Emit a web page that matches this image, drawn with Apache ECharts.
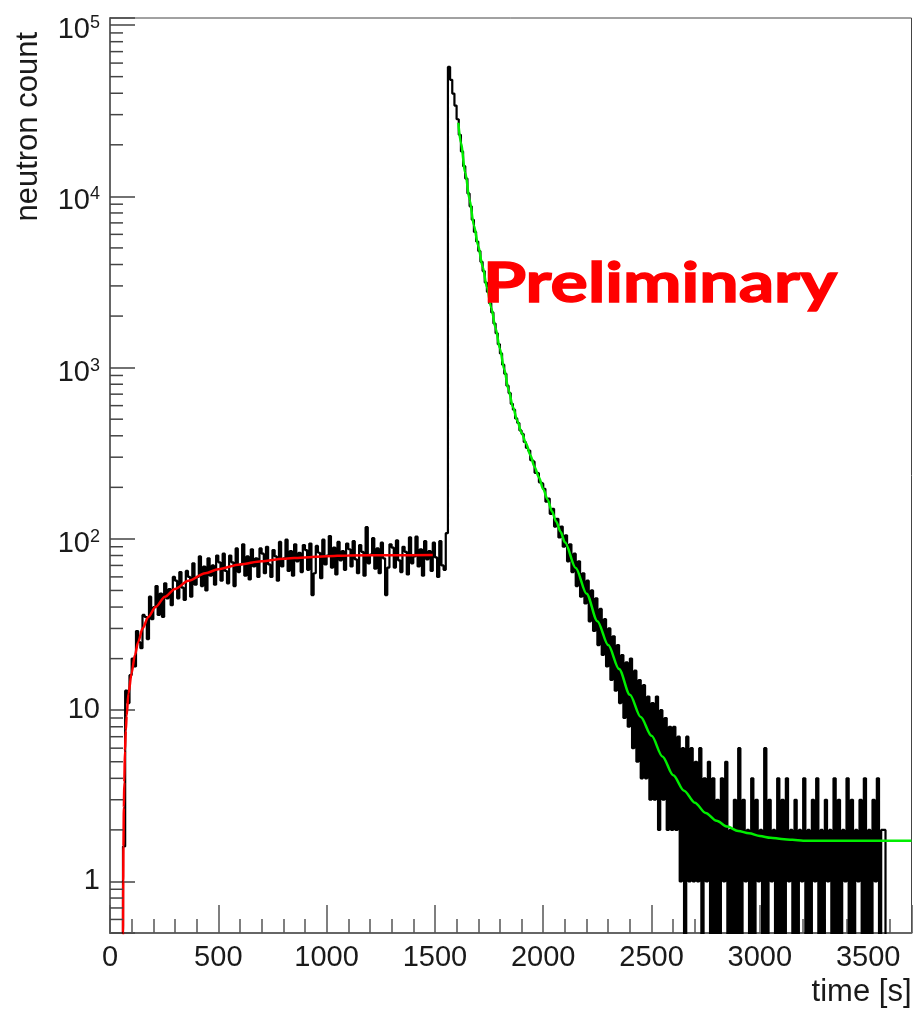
<!DOCTYPE html>
<html>
<head>
<meta charset="utf-8">
<title>neutron count vs time</title>
<script src="https://cdn.jsdelivr.net/npm/echarts@6.0.0/dist/echarts.min.js"></script>
<style>
html,body{margin:0;padding:0;background:#ffffff;}
#chart{width:913px;height:1011px;}
</style>
</head>
<body>
<div id="chart"></div>
<script>
// ---------------- data ----------------
const binWidth = 10;   // s per histogram bin
const histStart = 0;   // s, left edge of the first bin
const histCounts = [
  0,0,0,0,0,0,1.6,13,11,16,
  20,18,29,25,23,36,35,26,46,34,
  40,53,36,48,35,55,45,51,41,60,
  57,45,64,52,44,65,60,46,72,54,
  60,79,53,69,50,77,61,70,54,80,
  73,57,82,65,55,80,73,53,88,64,
  71,93,61,79,58,87,69,77,60,88,
  82,63,90,71,60,86,79,57,96,69,
  77,99,65,85,61,93,74,83,64,92,
  86,66,94,47,63,91,83,59,99,71,
  80,104,68,89,62,96,75,85,66,94,
  87,69,97,76,63,92,84,61,117,72,
  81,101,67,88,63,95,77,47,68,93,
  89,68,98,75,64,90,84,62,102,72,
  79,103,69,87,61,97,76,85,65,95,
  78,60,97,70,66,108,57000,47900,39800,33900,
  28200,22900,18300,15000,12700,10400,8750,7300,6200,5450,
  4790,4150,3660,3140,2770,2380,2100,1810,1590,1370,
  1210,1040,920,785,710,615,568,505,475,430,
  410,368,340,328,288,282,243,242,214,210,
  196,165,172,140,150,118,131,102,118,90,
  105,74,93,64,82,53,74,46,63,42,
  57,33,50,29,45,24,39,21,34,18,
  30,15,27,13,24,11,21,9,19,8,
  20,6,17,5,15,4,14,4,12,3,
  11,3,12,2,10,3,9,2,8,2,
  8,2,7,1,6,0,7,1,6,1,
  5,1,6,0,4,1,5,0,4,0,
  3,0,4,1,5,0,2,0,3,0,
  6,0,3,1,2,0,4,0,3,1,
  2,0,6,0,3,1,2,0,4,0,
  3,0,4,1,2,0,3,0,2,1,
  4,0,2,0,3,1,4,0,2,0,
  3,1,2,0,4,0,3,0,2,1,
  4,0,3,0,2,1,3,0,4,0,
  2,0,3,1,4,0,2
];

// rise fit (red)
const riseFitTime  = [59, 60, 61, 62, 64, 66, 69, 73, 77, 85, 100, 115, 130, 150, 177, 210, 254, 300, 362, 440, 500, 600, 700, 800, 900, 1000, 1100, 1300, 1490];
const riseFitCount = [0.3, 0.5, 1.0, 1.6, 2.7, 3.8, 5.8, 7.6, 9.3, 12.5, 16.5, 21, 25, 30, 35, 40, 46, 51, 57, 63, 66.5, 71, 74, 76.5, 78, 79.3, 80, 80.3, 80.5];

// decay fit (green)
const decayFitTime  = [1608, 1620, 1640, 1660, 1680, 1700, 1720, 1740, 1760, 1780, 1800, 1820, 1840, 1860, 1880, 1900, 1920, 1940, 1960, 1980, 2000, 2020, 2040, 2060, 2080, 2100, 2150, 2200, 2250, 2300, 2350, 2400, 2450, 2500, 2550, 2600, 2650, 2700, 2750, 2800, 2850, 2900, 2950, 3000, 3050, 3100, 3150, 3200, 3700];
const decayFitCount = [26900, 20400, 13800, 9550, 6760, 5130, 3890, 2950, 2240, 1700, 1290, 977, 741, 589, 490, 417, 363, 309, 263, 229, 195, 170, 145, 126, 110, 95.5, 67.6, 47.9, 33.1, 24.0, 17.4, 12.3, 9.12, 7.08, 5.37, 4.17, 3.39, 2.88, 2.51, 2.26, 2.09, 1.97, 1.91, 1.84, 1.80, 1.77, 1.75, 1.73, 1.73];

// axes
const xMin = 0, xMax = 3700, xMajorStep = 500, xMinorStep = 100;
const yMin = 0.5, yMax = 1.1e5;
const yMinorMantissas = [2, 3, 4, 5, 6, 7, 8, 9];
const yDecades = [-1, 0, 1, 2, 3, 4];
const xTitle = 'time [s]';
const yTitle = 'neutron count';
const stampText = 'Preliminary';

// ---------------- build ----------------
const ZERO_FLOOR = 0.02; // empty bins are drawn below the axis floor (log scale)
const histData = histCounts.map((c, i) => [histStart + i * binWidth, c > 0 ? c : ZERO_FLOOR]);
const histEnd = histStart + histCounts.length * binWidth;
histData.push([histEnd, histCounts[histCounts.length - 1] || ZERO_FLOOR]);
histData.push([histEnd + binWidth, ZERO_FLOOR]);

const riseData = riseFitTime.map((t, i) => [t, riseFitCount[i]]);
const decayData = decayFitTime.map((t, i) => [t, decayFitCount[i]]);

const yMinorTicks = [];
yDecades.forEach(d => yMinorMantissas.forEach(m => {
  const v = m * Math.pow(10, d);
  if (v > yMin && v < yMax) yMinorTicks.push([xMin, v]);
}));

const FONT = '"Liberation Sans", Helvetica, Arial, sans-serif';
const TXT = '#1a1a1a';

const chart = echarts.init(document.getElementById('chart'), null, {renderer: 'canvas'});
chart.setOption({
  animation: false,
  backgroundColor: '#ffffff',
  grid: {
    left: 110, right: 1.5, top: 18, bottom: 78,
    show: true, borderColor: '#444', borderWidth: 1,
    containLabel: false, outerBoundsMode: 'none'
  },
  xAxis: [
    {
      type: 'value', min: xMin, max: xMax, interval: xMajorStep,
      position: 'bottom',
      name: xTitle, nameLocation: 'end', nameGap: 0,
      nameTextStyle: {fontFamily: FONT, fontSize: 31, color: TXT, align: 'right', verticalAlign: 'top', padding: [44, 0, 0, 0]},
      axisLine: {show: true, lineStyle: {color: '#666', width: 2}},
      axisTick: {show: true, inside: true, length: 28, lineStyle: {color: '#555', width: 1.5}},
      axisLabel: {
        show: true, margin: 10, fontFamily: FONT, fontSize: 29, color: TXT,
        formatter: v => (v % xMajorStep === 0 && v <= 3500 ? String(v) : '')
      },
      splitLine: {show: false}
    },
    {
      type: 'value', min: xMin, max: xMax, interval: xMinorStep,
      position: 'bottom',
      axisLine: {show: false},
      axisTick: {show: true, inside: true, length: 14, lineStyle: {color: '#555', width: 1.5}},
      axisLabel: {show: false},
      splitLine: {show: false}
    }
  ],
  yAxis: {
    type: 'log', logBase: 10, min: yMin, max: yMax,
    name: yTitle, nameLocation: 'end', nameGap: -14, nameRotate: 90,
    nameTextStyle: {fontFamily: FONT, fontSize: 31, color: TXT, align: 'right', verticalAlign: 'bottom', padding: [0, 0, 66, 0]},
    axisLine: {show: true, lineStyle: {color: '#666', width: 2}},
    axisTick: {show: true, inside: true, length: 25, lineStyle: {color: '#444', width: 1.5}},
    axisLabel: {
      show: true, margin: 10, color: TXT, fontFamily: FONT,
      formatter: v => {
        const lg = Math.log10(v);
        const e = Math.round(lg);
        if (Math.abs(lg - e) > 1e-6) return '';
        if (e === 0) return '{p|1}';
        if (e === 1) return '{p|10}';
        return '{b|10}{s|' + e + '}';
      },
      rich: {
        p: {fontFamily: FONT, fontSize: 29, color: TXT, lineHeight: 30},
        b: {fontFamily: FONT, fontSize: 29, color: TXT, lineHeight: 30, padding: [10, 0, 0, 0]},
        s: {fontFamily: FONT, fontSize: 18, color: TXT, lineHeight: 14, verticalAlign: 'top', padding: [4, 0, 0, 0]}
      }
    },
    splitLine: {show: false}
  },
  graphic: [{
    type: 'text', left: 482, top: 256, z: 100, scaleX: 1.27, scaleY: 1.0,
    style: {text: stampText, fontFamily: 'Lato, "Open Sans", sans-serif', fontWeight: 'bold', fontSize: 55,
            fill: '#ff0000', stroke: '#ff0000', lineWidth: 1.4}
  }],
  series: [
    {
      name: 'histogram', type: 'line', xAxisIndex: 0, yAxisIndex: 0,
      data: histData, step: 'end', symbol: 'none', sampling: false,
      lineStyle: {color: '#000000', width: 2.2}, clip: true, z: 2, silent: true
    },
    {
      name: 'rise fit', type: 'line', xAxisIndex: 0, yAxisIndex: 0,
      data: riseData, symbol: 'none', smooth: 0.3, smoothMonotone: 'x',
      lineStyle: {color: '#ff0000', width: 2.5}, clip: true, z: 3, silent: true
    },
    {
      name: 'decay fit', type: 'line', xAxisIndex: 0, yAxisIndex: 0,
      data: decayData, symbol: 'none', smooth: 0.3, smoothMonotone: 'x',
      lineStyle: {color: '#00ee00', width: 2.5}, clip: true, z: 3, silent: true
    },
    {
      name: 'y minor ticks', type: 'custom', xAxisIndex: 0, yAxisIndex: 0,
      data: yMinorTicks, silent: true, z: 4,
      renderItem: (params, api) => {
        const p = api.coord([api.value(0), api.value(1)]);
        return {type: 'line', shape: {x1: p[0], y1: p[1], x2: p[0] + 13, y2: p[1]}, style: {stroke: '#444', lineWidth: 1.5}};
      }
    }
  ]
});
</script>
</body>
</html>
